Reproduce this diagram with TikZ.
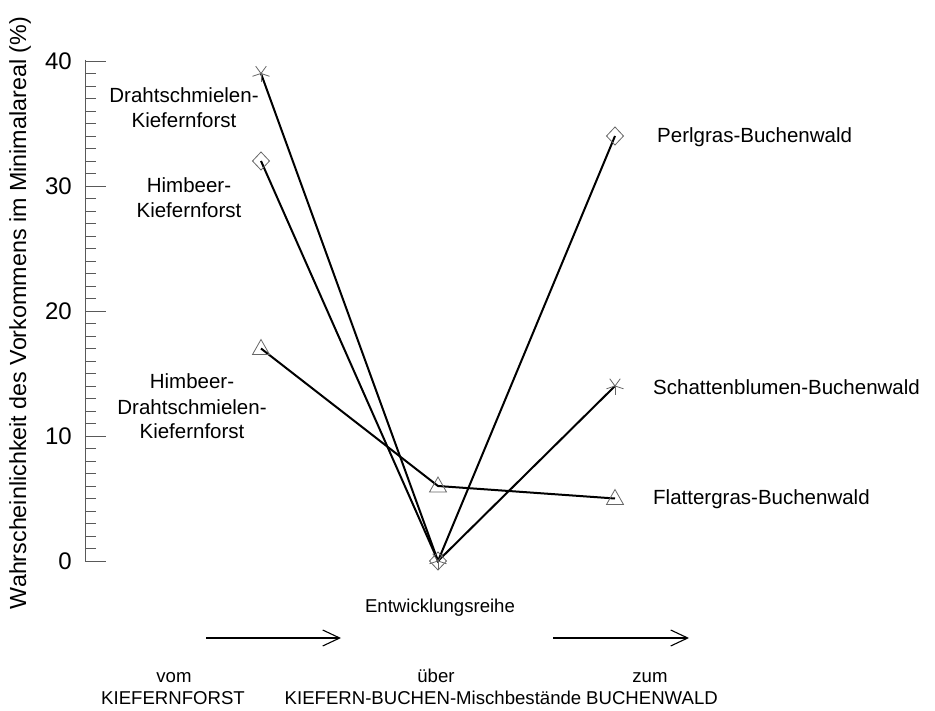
\documentclass[tikz,border=0pt]{standalone}
\usepackage{fontspec}
\setmainfont{Liberation Sans}
\usetikzlibrary{arrows.meta}
\tikzset{
  lbl/.style={inner sep=0pt, anchor=base, font=\fontsize{20.5}{25}\selectfont},
  blbl/.style={inner sep=0pt, anchor=base, font=\fontsize{18.6}{24}\selectfont},
  ticklbl/.style={inner sep=0pt, anchor=east, font=\fontsize{24}{28}\selectfont},
  dataline/.style={line width=2pt, black},
  axisline/.style={line width=0.9pt, black!65},
  mk/.style={line width=0.8pt, black!60},
  devarrow/.style={line width=1.1pt, -{Straight Barb[length=17pt,width=16pt,line width=1.1pt]}},
  pics/astmark/.style={code={
    \foreach \a in {90,18,162,234,306} \draw[mk] (0,0) -- (\a:9);}},
  pics/diamark/.style={code={
    \draw[mk] (0,9) -- (8.5,0) -- (0,-9) -- (-8.5,0) -- cycle;}},
  pics/trimark/.style={code={
    \draw[mk] (0,-9) -- (8.5,6) -- (-8.5,6) -- cycle;}},
}
\begin{document}
\begin{tikzpicture}[x=1pt,y=-1pt]
\useasboundingbox (0,0) rectangle (935,711);
% axis
\draw[axisline] (85,60) -- (85,561);
\foreach \i in {0,...,40} {
  \pgfmathsetmacro{\yy}{561-12.5*\i}
  \pgfmathtruncatemacro{\m}{mod(\i,10)}
  \ifnum\m=0 \draw[axisline] (85,\yy) -- (106,\yy);
  \else \draw[axisline] (85,\yy) -- (96,\yy); \fi
}
\foreach \v in {0,10,20,30,40} {
  \pgfmathsetmacro{\yy}{561-12.5*\v}
  \node[ticklbl] (t\v) at (72,\yy) {\v};
}
\node[inner sep=0pt, rotate=90, font=\fontsize{23.3}{28}\selectfont] (ylab) at (20,313) {Wahrscheinlichkeit des Vorkommens im Minimalareal (\%)};
% data points
\coordinate (L1) at (261,73.5);
\coordinate (L2) at (261,161);
\coordinate (L3) at (261,348.5);
\coordinate (M1) at (438,561);
\coordinate (M2) at (438,561);
\coordinate (M3) at (438,486);
\coordinate (R1) at (615,386);
\coordinate (R2) at (615,136);
\coordinate (R3) at (615,498.5);
\draw[dataline] (L1) -- (M1) -- (R1);
\draw[dataline] (L2) -- (M2) -- (R2);
\draw[dataline] (L3) -- (M3) -- (R3);
\pic at (L1) {astmark};
\pic at (M1) {astmark};
\pic at (R1) {astmark};
\pic at (L2) {diamark};
\pic at (M2) {diamark};
\pic at (R2) {diamark};
\pic at (L3) {trimark};
\pic at (M3) {trimark};
\pic at (R3) {trimark};
% left labels
\node[lbl] (n1a) at (184,103) {Drahtschmielen-};
\node[lbl] (n1b) at (184,127.5) {Kiefernforst};
\node[lbl] (n2a) at (189,192.5) {Himbeer-};
\node[lbl] (n2b) at (189,217.5) {Kiefernforst};
\node[lbl] (n3a) at (192,388.5) {Himbeer-};
\node[lbl] (n3b) at (192,414) {Drahtschmielen-};
\node[lbl] (n3c) at (192,438.5) {Kiefernforst};
% right labels
\node[lbl, anchor=base west] (r1) at (657,142.5) {Perlgras-Buchenwald};
\node[lbl, anchor=base west] (r2) at (653,394.5) {Schattenblumen-Buchenwald};
\node[lbl, anchor=base west] (r3) at (653,504.5) {Flattergras-Buchenwald};
% bottom
\node[blbl] (ent) at (440,612) {Entwicklungsreihe};
\coordinate (a1s) at (206,638);
\coordinate (a1e) at (341,638);
\coordinate (a2s) at (553,638);
\coordinate (a2e) at (689,638);
\draw[devarrow] (a1s) -- (a1e);
\draw[devarrow] (a2s) -- (a2e);
\node[blbl] (b1a) at (174,682) {vom};
\node[blbl] (b1b) at (173,704) {KIEFERNFORST};
\node[blbl] (b2a) at (436,682) {über};
\node[blbl] (b2b) at (433,704) {KIEFERN-BUCHEN-Mischbestände};
\node[blbl] (b3a) at (650,682) {zum};
\node[blbl] (b3b) at (652,704) {BUCHENWALD};
\end{tikzpicture}
\end{document}
